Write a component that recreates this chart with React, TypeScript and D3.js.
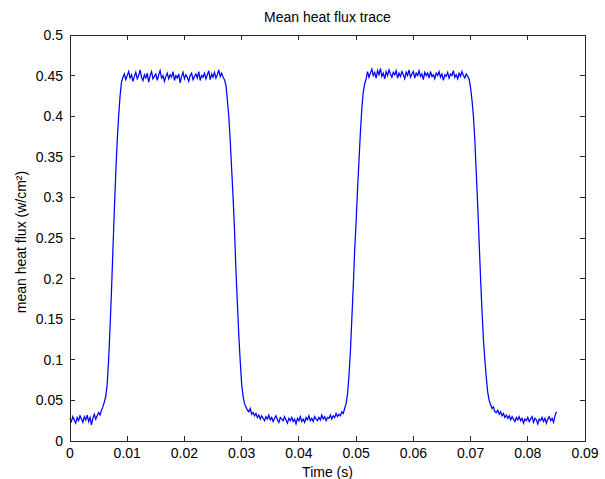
import React from "react";
import * as d3 from "d3";

const TITLE = "Mean heat flux trace";
const X_LABEL = "Time (s)";
const Y_LABEL = "mean heat flux (w/cm²)";
const X_TICKS = [0, 0.01, 0.02, 0.03, 0.04, 0.05, 0.06, 0.07, 0.08, 0.09];
const Y_TICKS = [0, 0.05, 0.1, 0.15, 0.2, 0.25, 0.3, 0.35, 0.4, 0.45, 0.5];
const SAMPLE_STEP = 0.00025; // seconds between samples

const baseline1 = [
  0.028, 0.024, 0.030, 0.026, 0.022, 0.029, 0.025, 0.031, 0.027, 0.023,
  0.030, 0.026, 0.032, 0.024, 0.029, 0.020, 0.028, 0.033, 0.027, 0.031,
  0.035, 0.032, 0.038,
];
const rise1 = [
  0.042, 0.048, 0.055, 0.070, 0.100, 0.140, 0.185, 0.235, 0.285, 0.330,
  0.370, 0.400, 0.425, 0.442, 0.448,
];
const plateau1 = [
  0.452, 0.445, 0.450, 0.455, 0.447, 0.451, 0.443, 0.449, 0.454, 0.446,
  0.450, 0.457, 0.448, 0.444, 0.451, 0.447, 0.453, 0.442, 0.450, 0.455,
  0.446, 0.449, 0.452, 0.444, 0.451, 0.456, 0.447, 0.450, 0.443, 0.449,
  0.453, 0.446, 0.451, 0.448, 0.455, 0.444, 0.450, 0.447, 0.452, 0.441,
  0.449, 0.454, 0.446, 0.451, 0.448, 0.443, 0.450, 0.453, 0.445, 0.449,
  0.452, 0.447, 0.455, 0.444, 0.450, 0.448, 0.453, 0.446, 0.451, 0.456,
  0.445, 0.452, 0.448, 0.454, 0.447, 0.451, 0.457, 0.449, 0.453, 0.448,
];
const fall1 = [
  0.445, 0.438, 0.420, 0.400, 0.370, 0.335, 0.300, 0.260, 0.210, 0.170,
  0.130, 0.098, 0.070, 0.055, 0.046, 0.042, 0.038,
];
const baseline2 = [
  0.036, 0.040, 0.033, 0.035, 0.031, 0.034, 0.029, 0.032, 0.027, 0.031,
  0.028, 0.025, 0.030, 0.027, 0.032, 0.026, 0.029, 0.024, 0.028, 0.031,
  0.026, 0.023, 0.029, 0.027, 0.025, 0.030, 0.026, 0.022, 0.028, 0.025,
  0.029, 0.024, 0.027, 0.021, 0.028, 0.025, 0.030, 0.024, 0.027, 0.023,
  0.029, 0.026, 0.031, 0.025, 0.028, 0.024, 0.030, 0.027, 0.025, 0.029,
  0.026, 0.032, 0.027, 0.030, 0.025, 0.029, 0.028, 0.032, 0.027, 0.031,
  0.029, 0.034, 0.030, 0.033, 0.031, 0.036, 0.034,
];
const rise2 = [
  0.040, 0.046, 0.058, 0.080, 0.110, 0.150, 0.190, 0.235, 0.270, 0.310,
  0.345, 0.380, 0.410, 0.430, 0.440, 0.446,
];
const plateau2 = [
  0.455, 0.448, 0.453, 0.458, 0.450, 0.454, 0.447, 0.456, 0.451, 0.459,
  0.449, 0.453, 0.446, 0.455, 0.450, 0.457, 0.452, 0.448, 0.454, 0.451,
  0.456, 0.447, 0.453, 0.449, 0.455, 0.451, 0.446, 0.454, 0.450, 0.457,
  0.448, 0.452, 0.455, 0.447, 0.453, 0.450, 0.456, 0.449, 0.452, 0.445,
  0.454, 0.450, 0.453, 0.447, 0.455, 0.449, 0.451, 0.446, 0.453, 0.450,
  0.455, 0.448, 0.452, 0.444, 0.451, 0.449, 0.454, 0.447, 0.452, 0.450,
  0.456, 0.448, 0.451, 0.446, 0.453, 0.449, 0.455, 0.450, 0.447, 0.452,
  0.449,
];
const fall2 = [
  0.446, 0.435, 0.420, 0.400, 0.370, 0.330, 0.290, 0.245, 0.200, 0.160,
  0.125, 0.100, 0.078, 0.060, 0.050, 0.045, 0.040, 0.042, 0.036, 0.035,
];
const baseline3 = [
  0.038, 0.033, 0.036, 0.031, 0.034, 0.029, 0.032, 0.028, 0.031, 0.026,
  0.030, 0.027, 0.024, 0.029, 0.026, 0.030, 0.025, 0.028, 0.022, 0.027,
  0.025, 0.029, 0.024, 0.027, 0.030, 0.023, 0.028, 0.026, 0.021, 0.027,
  0.025, 0.029, 0.024, 0.028, 0.022, 0.027, 0.030, 0.025, 0.028, 0.023,
  0.031, 0.036,
];

const flux = [
  ...baseline1, ...rise1, ...plateau1, ...fall1, ...baseline2,
  ...rise2, ...plateau2, ...fall2, ...baseline3,
];

const W = 605;
const H = 479;
const M = { left: 70, right: 585, top: 35, bottom: 441 };
const FONT = "'Liberation Sans', Arial, sans-serif";

export default function App() {
  const x = d3.scaleLinear().domain([0, 0.09]).range([M.left, M.right]);
  const y = d3.scaleLinear().domain([0, 0.5]).range([M.bottom, M.top]);
  const line = d3
    .line<number>()
    .x((_, i) => x(i * SAMPLE_STEP))
    .y((d) => y(d));
  const tickLen = 5;
  const axisColor = "#262626";
  const fmt = (v: number) => (v === 0 ? "0" : String(+v.toFixed(2)));

  return (
    <svg
      width={W}
      height={H}
      style={{ position: "absolute", left: 0, top: 0, background: "#fff" }}
      fontFamily={FONT}
    >
      <rect x={0} y={0} width={W} height={H} fill="#fff" />
      <path d={line(flux) || ""} fill="none" stroke="#0000ff" strokeWidth={1.25} />
      <rect
        x={M.left}
        y={M.top}
        width={M.right - M.left}
        height={M.bottom - M.top}
        fill="none"
        stroke={axisColor}
        strokeWidth={1}
        shapeRendering="crispEdges"
      />
      {X_TICKS.map((t) => (
        <g key={"x" + t}>
          <line x1={x(t)} x2={x(t)} y1={M.bottom} y2={M.bottom - tickLen} stroke={axisColor} shapeRendering="crispEdges" />
          <line x1={x(t)} x2={x(t)} y1={M.top} y2={M.top + tickLen} stroke={axisColor} shapeRendering="crispEdges" />
          <text x={x(t)} y={458} textAnchor="middle" fontSize={14} fill="#000">
            {fmt(t)}
          </text>
        </g>
      ))}
      {Y_TICKS.map((t) => (
        <g key={"y" + t}>
          <line x1={M.left} x2={M.left + tickLen} y1={y(t)} y2={y(t)} stroke={axisColor} shapeRendering="crispEdges" />
          <line x1={M.right} x2={M.right - tickLen} y1={y(t)} y2={y(t)} stroke={axisColor} shapeRendering="crispEdges" />
          <text x={63} y={y(t)} dy="0.36em" textAnchor="end" fontSize={14} fill="#000">
            {fmt(t)}
          </text>
        </g>
      ))}
      <text x={(M.left + M.right) / 2} y={22} textAnchor="middle" fontSize={14} fill="#000">
        {TITLE}
      </text>
      <text x={(M.left + M.right) / 2} y={477} textAnchor="middle" fontSize={14} fill="#000">
        {X_LABEL}
      </text>
      <text
        transform={`translate(26, ${(M.top + M.bottom) / 2 + 4}) rotate(-90)`}
        textAnchor="middle"
        fontSize={14}
        fill="#000"
      >
        {Y_LABEL}
      </text>
    </svg>
  );
}
